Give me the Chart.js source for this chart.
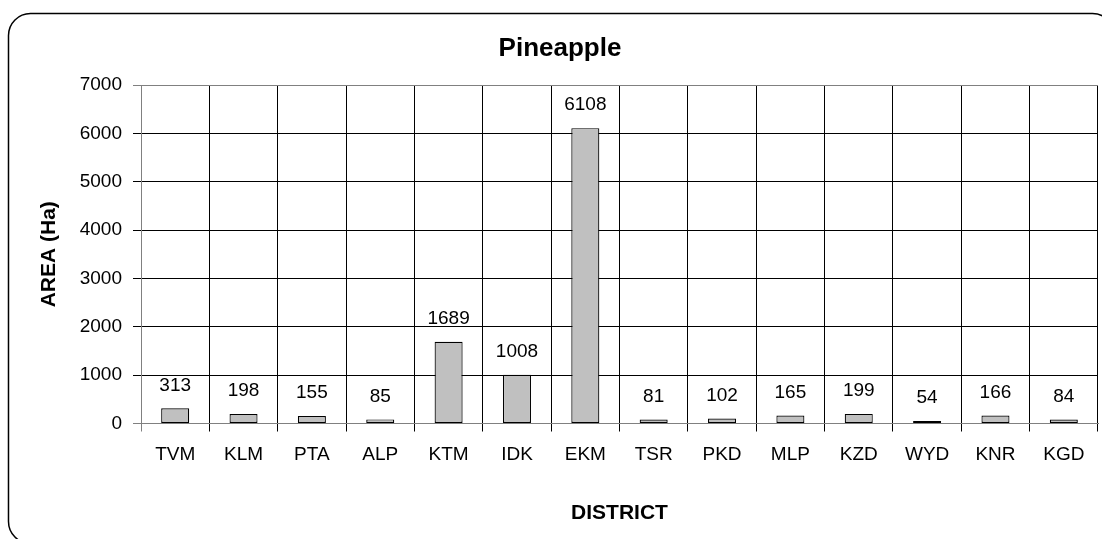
<!DOCTYPE html>
<html>
<head>
<meta charset="utf-8">
<script src="https://cdn.jsdelivr.net/npm/chart.js@4"></script>
<style>
  html, body { margin: 0; padding: 0; background: #ffffff; }
  #wrap { width: 1102px; height: 539px; position: relative; }
</style>
</head>
<body>
<div id="wrap"><canvas id="c" width="1102" height="539"></canvas></div>
<script>
const chartTitle = 'Pineapple';
const xTitle = 'DISTRICT';
const yTitle = 'AREA (Ha)';
const categories = ['TVM','KLM','PTA','ALP','KTM','IDK','EKM','TSR','PKD','MLP','KZD','WYD','KNR','KGD'];
const areaValues = [313, 198, 155, 85, 1689, 1008, 6108, 81, 102, 165, 199, 54, 166, 84];
const yMin = 0;
const yMax = 7000;
const yStep = 1000;

const FONT = "'Liberation Sans', Arial, Helvetica, sans-serif";
const GREY = '#808080';

const frameAndLabels = {
  id: 'frameAndLabels',
  afterDraw(chart) {
    const ctx = chart.ctx;
    ctx.save();
    // rounded outer frame
    ctx.strokeStyle = '#000000';
    ctx.lineWidth = 1.5;
    ctx.beginPath();
    ctx.roundRect(8.5, 13.5, 1106, 530, 22);
    ctx.stroke();
    // value labels above bars
    const meta = chart.getDatasetMeta(0);
    ctx.fillStyle = '#000000';
    ctx.font = '19px ' + FONT;
    ctx.textAlign = 'center';
    ctx.textBaseline = 'middle';
    meta.data.forEach((bar, i) => {
      const v = chart.data.datasets[0].data[i];
      ctx.fillText(String(v), bar.x, bar.y - 23);
    });
    ctx.restore();
  }
};

new Chart(document.getElementById('c'), {
  type: 'bar',
  data: {
    labels: categories,
    datasets: [{
      data: areaValues,
      backgroundColor: '#c0c0c0',
      borderColor: '#000000',
      borderWidth: 1.2,
      borderSkipped: false,
      barPercentage: 0.41,
      categoryPercentage: 1.0
    }]
  },
  options: {
    responsive: false,
    animation: false,
    devicePixelRatio: 1,
    layout: { padding: { left: 22, right: 4, top: 0, bottom: 0 } },
    plugins: {
      legend: { display: false },
      tooltip: { enabled: false },
      title: {
        display: true,
        text: chartTitle,
        color: '#000000',
        font: { family: FONT, size: 26, weight: 'bold', lineHeight: 1.2 },
        padding: { top: 33.4, bottom: 20.4 }
      }
    },
    scales: {
      x: {
        grid: {
          offset: true,
          color: (c) => (c.index === 0 || c.index === categories.length) ? GREY : '#000000',
          lineWidth: 1,
          tickLength: 8,
          drawTicks: true
        },
        border: { display: true, color: GREY, width: 1 },
        ticks: {
          color: '#000000',
          font: { family: FONT, size: 19 },
          padding: 12,
          maxRotation: 0,
          autoSkip: false
        },
        title: {
          display: true,
          text: xTitle,
          color: '#000000',
          font: { family: FONT, size: 21, weight: 'bold', lineHeight: 1.2 },
          padding: { top: 0, bottom: 13.4 }
        },
        afterFit: (s) => { s.height = 115.5; }
      },
      y: {
        min: yMin,
        max: yMax,
        grid: {
          color: (c) => (c.tick && (c.tick.value === yMax || c.tick.value === yMin)) ? GREY : '#000000',
          lineWidth: 1,
          tickLength: 8
        },
        border: { display: true, color: GREY, width: 1 },
        ticks: {
          stepSize: yStep,
          color: '#000000',
          font: { family: FONT, size: 19 },
          padding: 11,
          callback: (v) => String(v)
        },
        title: {
          display: true,
          text: yTitle,
          color: '#000000',
          font: { family: FONT, size: 21, weight: 'bold', lineHeight: 1.2 },
          padding: { top: 14.4, bottom: 0 }
        },
        afterFit: (s) => { s.width = 119; }
      }
    }
  },
  plugins: [frameAndLabels]
});
</script>
</body>
</html>
